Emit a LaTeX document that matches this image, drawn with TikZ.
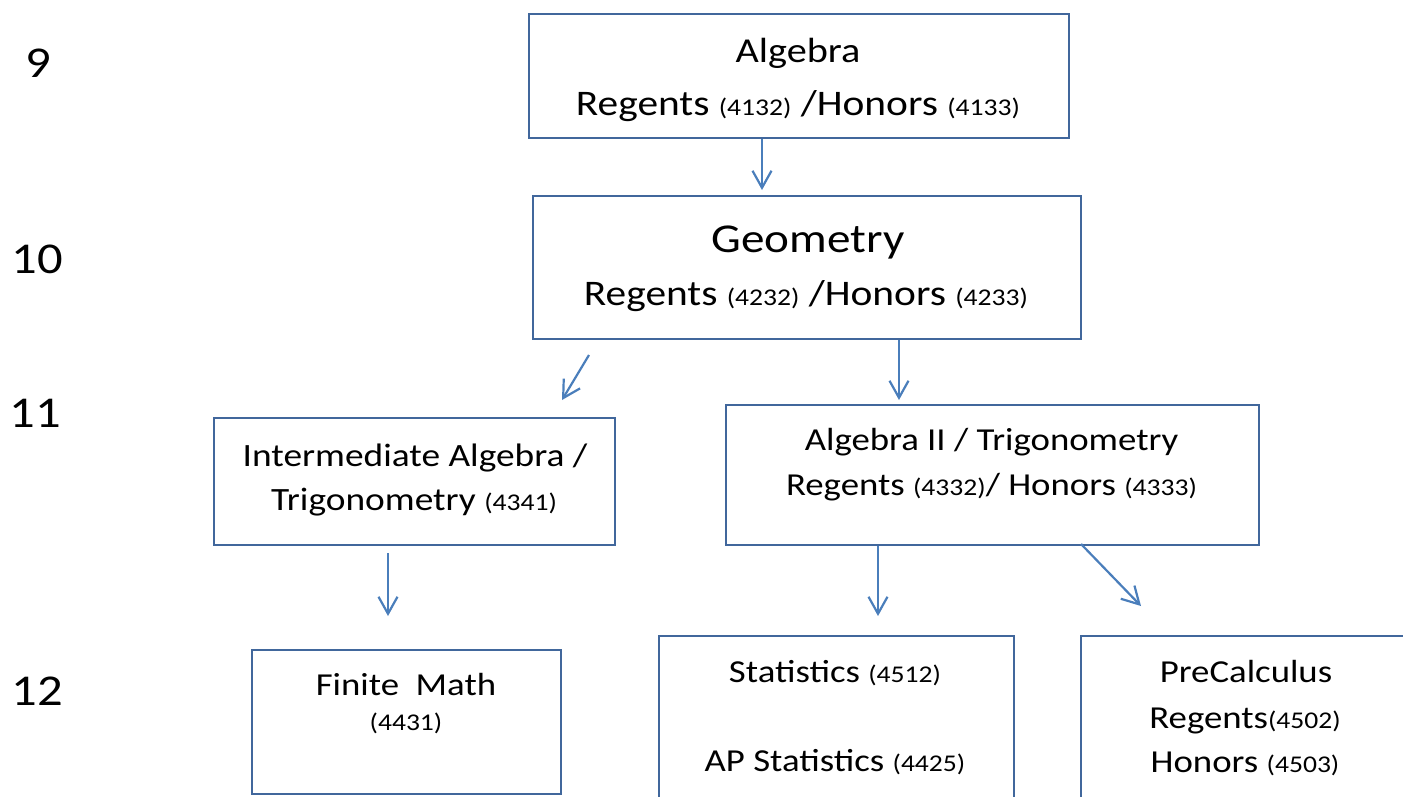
\documentclass[tikz,border=0pt]{standalone}
\usepackage{fontspec}
\setmainfont[FakeStretch=1.15]{Carlito}
\usetikzlibrary{arrows.meta}
\newcommand\fsz[1]{\fontsize{#1}{#1}\selectfont}
\newcommand\smn[1]{{\fsz{24}#1}}
\definecolor{boxline}{HTML}{41679C}
\definecolor{arrline}{HTML}{4A7EBB}
\tikzset{
  box/.style={draw=boxline, line width=1.8pt, rectangle, inner sep=0pt, anchor=north west},
  txt/.style={inner sep=0pt, anchor=base, text=black},
  lbl/.style={inner sep=0pt, anchor=base, text=black, font=\fsz{44}},
  arr/.style={draw=arrline, line width=2.2pt, -{Straight Barb[length=17pt,width=19pt,line width=2.2pt]}},
}
\begin{document}
\begin{tikzpicture}[x=1pt,y=-1pt]
\useasboundingbox (0,0) rectangle (1403,796);
\clip (0,0) rectangle (1403,796);
% grade labels
\node[lbl] (g9)  at (38,77)  {9};
\node[lbl] (g10) at (37,273) {10};
\node[lbl] (g11) at (35,427) {11};
\node[lbl] (g12) at (37,705) {12};
% boxes
\node[box, minimum width=540pt, minimum height=124pt] (alg) at (528,13) {};
\node[box, minimum width=548pt, minimum height=143pt] (geo) at (532,195) {};
\node[box, minimum width=401pt, minimum height=127pt] (inter) at (213,417) {};
\node[box, minimum width=533pt, minimum height=140pt] (alg2) at (725,404) {};
\node[box, minimum width=309pt, minimum height=144pt] (fin) at (251,649) {};
\node[box, minimum width=355pt, minimum height=200pt] (stat) at (658,635) {};
\node[box, minimum width=400pt, minimum height=200pt] (pre) at (1080,635) {};
% texts
\node[txt] (alg1) at (798,62) {\fsz{35}Algebra};
\node[txt] (alg2t) at (798,115) {\fsz{36}Regents \smn{(4132)} /Honors \smn{(4133)}};
\node[txt] (geo1) at (808,252) {\fsz{41}Geometry};
\node[txt] (geo2) at (806,305) {\fsz{36}Regents \smn{(4232)} /Honors \smn{(4233)}};
\node[txt] (int1) at (415,466) {\fsz{32.5}Intermediate Algebra /};
\node[txt] (int2) at (414,510) {\fsz{32.5}Trigonometry \smn{(4341)}};
\node[txt] (a2a) at (991.5,450) {\fsz{32}Algebra II / Trigonometry};
\node[txt] (a2b) at (991.5,495) {\fsz{32}Regents \smn{(4332)}/ Honors \smn{(4333)}};
\node[txt] (fin1) at (406,695) {\fsz{32}Finite\ \ Math};
\node[txt] (fin2) at (406,730) {\smn{(4431)}};
\node[txt] (st1) at (835,682) {\fsz{32}Statistics \smn{(4512)}};
\node[txt] (st2) at (835,771) {\fsz{32}AP Statistics \smn{(4425)}};
\node[txt] (pc1) at (1246,682) {\fsz{32}PreCalculus};
\node[txt] (pc2) at (1245,728) {\fsz{32}Regents\smn{(4502)}};
\node[txt] (pc3) at (1245,772) {\fsz{32}Honors \smn{(4503)}};
% arrow end points
\coordinate (e1e) at (762,190);
\coordinate (e2s) at (589,355);  \coordinate (e2e) at (562,400);
\coordinate (e3e) at (899,400);
\coordinate (e4s) at (388,553);  \coordinate (e4e) at (388,616);
\coordinate (e5e) at (878,616);
\coordinate (e6s) at (1081,544); \coordinate (e6e) at (1141,606);
\draw[arr] (alg.south -| e1e) -- (e1e);
\draw[arr] (e2s) -- (e2e);
\draw[arr] (geo.south -| e3e) -- (e3e);
\draw[arr] (e4s) -- (e4e);
\draw[arr] (alg2.south -| e5e) -- (e5e);
\draw[arr] (e6s) -- (e6e);
\end{tikzpicture}
\end{document}
